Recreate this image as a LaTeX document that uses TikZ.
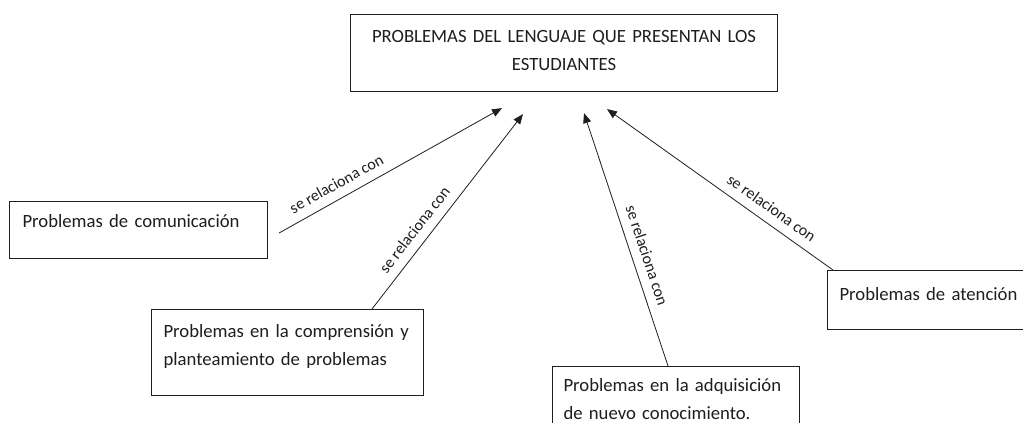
\documentclass[tikz,border=0pt]{standalone}
\usepackage{fontspec}
\setmainfont{Carlito}
\usetikzlibrary{arrows.meta,calc}
\definecolor{ink}{RGB}{30,30,30}
\begin{document}
\begin{tikzpicture}[x=1pt,y=-1pt,
  box/.style={draw=ink, line width=1.1pt, text=ink, inner ysep=0pt, anchor=north west, align=left,
    font=\fontsize{18.7}{27.5}\selectfont},
  conn/.style={draw=ink, line width=0.8pt, -{Triangle[length=10pt,width=8pt]}},
  lbl/.style={sloped, above=7pt, inner sep=2pt, text=ink, font=\fontsize{16}{19}\selectfont}]
\useasboundingbox (0,0) rectangle (1023,423);
\clip (0,0) rectangle (1023,423);
\fill[white] (0,0) rectangle (1023,423);

\node[box, align=center, inner xsep=10pt, text width=407pt, text height=28pt, text depth=49pt] (top) at (350,14)
  {PROBLEMAS DEL LENGUAJE QUE PRESENTAN LOS\\ESTUDIANTES};
\node[box, inner xsep=13pt, text width=232pt, text height=26pt, text depth=31pt] (b1) at (9,201)
  {Problemas de comunicación};
\node[box, inner xsep=12pt, text width=248pt, text height=28pt, text depth=58pt] (b2) at (151,309)
  {Problemas en la comprensión y\\planteamiento de problemas};
\node[box, inner xsep=11pt, text width=225pt, text height=25pt, text depth=55pt] (b3) at (552,366)
  {Problemas en la adquisición\\de nuevo conocimiento.};
\node[box, inner xsep=12pt, text width=186pt, text height=30pt, text depth=29pt] (b4) at (827,270)
  {Problemas de atención};

\draw[conn] ($(b1.north east)+(11,32)$) coordinate (s1) -- node[lbl, pos=.29] {se relaciona con} ($(top.south west)+(152,16)$) coordinate (e1);
\draw[conn] ($(b2.north west)+(221,0)$) coordinate (s2) -- node[lbl, pos=.36] {se relaciona con} ($(top.south west)+(173,22)$) coordinate (e2);
\draw[conn] ($(b3.north west)+(116,0)$) coordinate (s3) -- node[lbl, pos=.42] {se relaciona con} ($(top.south west)+(234,21)$) coordinate (e3);
\draw[conn] ($(b4.north west)+(6,0)$) coordinate (s4) -- node[lbl, pos=.31] {se relaciona con} ($(top.south west)+(257,17)$) coordinate (e4);
\end{tikzpicture}
\end{document}
